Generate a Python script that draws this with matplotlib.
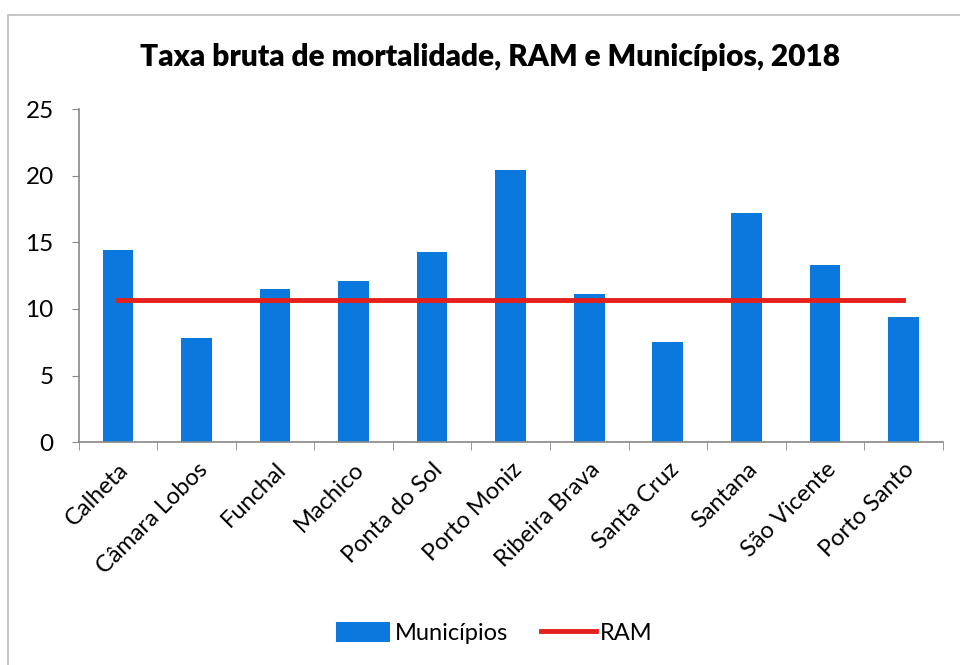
import numpy as np
import matplotlib
matplotlib.use('Agg')
import matplotlib.pyplot as plt
from matplotlib.patches import Rectangle

municipios = ['Calheta', 'Câmara Lobos', 'Funchal', 'Machico', 'Ponta do Sol',
              'Porto Moniz', 'Ribeira Brava', 'Santa Cruz', 'Santana',
              'São Vicente', 'Porto Santo']
taxa = [14.4, 7.8, 11.5, 12.1, 14.3, 20.4, 11.1, 7.5, 17.2, 13.3, 9.4]
ram = [10.7] * len(municipios)

plt.rcParams['font.family'] = ['Lato', 'DejaVu Sans']

fig = plt.figure(figsize=(9.6, 6.65), dpi=100)
ax = fig.add_axes([0.082, 0.335, 0.9, 0.501])

x = np.arange(len(municipios))
bars = ax.bar(x, taxa, width=0.39, color='#0a78dc', label='Municípios', zorder=2)
line, = ax.plot(x, ram, color='#e3201b', lw=3.5, label='RAM', zorder=3)

ax.set_xlim(-0.5, len(municipios) - 0.5)
ax.set_ylim(0, 25)
ax.set_yticks(range(0, 26, 5))
ax.tick_params(axis='y', labelsize=17.5, length=5, color='#888888', pad=13)
ax.set_xticks(x)
ax.set_xticklabels(municipios, rotation=45, ha='right', rotation_mode='anchor',
                   fontsize=17)
ax.tick_params(axis='x', length=0, pad=12)
ax.set_xticks(np.arange(-0.5, len(municipios)), minor=True)
ax.tick_params(axis='x', which='minor', length=6, color='#888888')

for s in ['top', 'right']:
    ax.spines[s].set_visible(False)
for s in ['left', 'bottom']:
    ax.spines[s].set_color('#888888')
    ax.spines[s].set_linewidth(1.2)

fig.text(0.51, 0.915, 'Taxa bruta de mortalidade, RAM e Municípios, 2018',
         ha='center', va='center', fontsize=21.5, fontweight='heavy')

fig.legend([bars, line], ['Municípios', 'RAM'], loc='center',
           bbox_to_anchor=(0.515, 0.048), ncol=2, frameon=False,
           fontsize=17, handlelength=2.3, handleheight=0.9, handletextpad=0.2,
           columnspacing=1.4)

# scanned frame around the chart
fig.patches.append(Rectangle((0.008, -0.01), 1.2, 0.987, transform=fig.transFigure,
                             fill=False, edgecolor='#bbbbbb', lw=1.2))

fig.savefig('out.png', dpi=100)
